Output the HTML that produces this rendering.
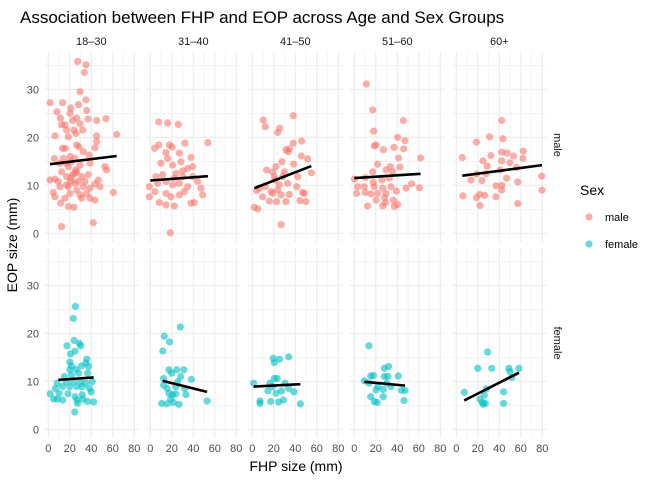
<!DOCTYPE html>
<html><head><meta charset="utf-8"><style>
body{margin:0;background:#fff;width:672px;height:480px;overflow:hidden;font-family:"Liberation Sans",sans-serif}
</style></head><body>
<svg id="chart" width="672" height="480" xmlns="http://www.w3.org/2000/svg" font-family="Liberation Sans, sans-serif">
<text x="20" y="23" font-size="17" fill="#000">Association between FHP and EOP across Age and Sex Groups</text>
<text transform="translate(17,245) rotate(-90)" text-anchor="middle" font-size="14" fill="#000">EOP size (mm)</text>
<text x="296" y="471" text-anchor="middle" font-size="14" fill="#000">FHP size (mm)</text>
<text transform="translate(554,145) rotate(90)" text-anchor="middle" font-size="11" fill="#1A1A1A">male</text>
<text transform="translate(554,343) rotate(90)" text-anchor="middle" font-size="11" fill="#1A1A1A">female</text>
<g>
<text x="580" y="195" font-size="14" fill="#000">Sex</text>
<circle cx="589" cy="217" r="3.6" fill="#F8766D" fill-opacity="0.6"/>
<text x="605" y="221" font-size="11" fill="#000">male</text>
<circle cx="589" cy="244" r="3.6" fill="#00BFC4" fill-opacity="0.6"/>
<text x="605" y="248" font-size="11" fill="#000">female</text>
</g>
<g id="panels"></g>
</svg>
<script>
const ageGroups = ["18–30","31–40","41–50","51–60","60+"];
const sexes = ["male","female"];
const xTicks = [0,20,40,60,80];
const yTicks = [0,10,20,30];
// male points [FHP, EOP] per age group
const male0 = [[27.3,35.8],[35,35.1],[33.5,33.5],[1.6,27.2],[13.3,27.2],[29.5,29.5],[35,27.8],[28,26.8],[35.7,25.6],[8,25.3],[20.8,26.1],[11.2,24],[37,23.8],[53.6,23.9],[45,23.5],[20.2,25],[22.6,23.5],[26.4,24],[15.5,22.6],[29.5,22.8],[6.2,20.3],[45,20.3],[63.6,20.6],[18.6,20.1],[25.7,20.8],[45,19.1],[15.8,17.7],[13.3,17.7],[26.4,18.4],[32.6,17],[43.4,17.8],[5.6,15.6],[14,15.6],[24.8,15.6],[38.1,16.3],[20.2,16],[52.7,13.9],[54.3,13.2],[1.6,11.1],[6.2,11.3],[12.4,12.8],[18.6,13.9],[22.6,12.2],[26.4,12.8],[31,11.8],[37.2,12.2],[46.5,11.1],[4.6,8.5],[10.9,9.7],[17,10.1],[20.8,10.8],[26.4,9],[32.6,9.7],[38.8,9.4],[43.4,10.3],[48,9.7],[60.5,8.5],[6.2,7.6],[11.5,6.3],[18.6,5.6],[23.9,5.4],[31,7.3],[38.8,7.3],[43.4,6.9],[12.4,1.4],[41.9,2.2],[17,14.6],[21.1,14.9],[29.5,14.2],[24.8,12.5],[17,11.8],[9.3,10.8],[27.9,10.8],[34.1,10.8],[20.2,8.3],[29.5,8],[35.7,8.3],[15.5,7.3],[25.4,13.2],[28.5,18],[23.9,21.5],[32,21.5],[17,21.5],[12.4,22.6],[38.8,14.6],[10.9,14.6],[21.1,11.5],[24.8,10.4],[18.6,9.7]];
const male1 = [[7.8,23.2],[16.1,23],[26,22.7],[53.6,18.9],[4,17.7],[7.8,18.4],[17.7,18.4],[20.2,18],[32.2,18.8],[14.6,16.8],[27,16.7],[16.1,15.6],[37.8,15.8],[9.9,14.6],[28.5,14.9],[20.8,14.2],[34.7,13.5],[39.4,13.9],[5.3,11.8],[11.5,12.2],[23.9,12.5],[30.1,11.8],[39.4,11.8],[44,10.8],[-0.9,9.7],[6.8,10.4],[14.6,10.8],[20.8,10.1],[27,10.4],[34.7,9.7],[47.1,9.4],[-0.9,7.6],[4.3,8.7],[14.6,8.3],[19.2,7.6],[27,8],[31.6,8.7],[48.7,8],[8.4,6.4],[14.6,5.9],[22.3,5.7],[40.9,6.4],[37.8,6.3],[18.6,0.1],[30.1,13],[22.3,11.5]];
const male2 = [[10.2,23.6],[12.1,22.2],[25.4,21.9],[23.6,21],[38.1,24.5],[38.1,18.8],[45.9,19.2],[31.3,17.4],[34.4,17.6],[33.5,17],[45.6,16.1],[27.6,14.9],[38.4,14.4],[51.5,15.5],[22,13.9],[13.3,13.2],[18.9,12.8],[29.8,12.8],[42.2,11.8],[54.9,12.6],[6.5,9.4],[12.1,9.7],[21.4,11.1],[17.4,8.7],[25.1,10.1],[32.9,10.4],[41.3,9.7],[9.6,7.6],[18.9,8.3],[26.7,8],[34.4,8.1],[46.8,8.5],[48.4,8.3],[15.8,6.7],[22.6,6.6],[31.3,6.6],[44.3,6.8],[49.9,6.6],[1.9,5.4],[5,5.1],[26.7,1.8],[23.6,9],[20.5,11.8],[28.3,11.8],[4,8.9]];
const male3 = [[11.2,31.1],[17.1,25.7],[18,21.3],[45.6,23.5],[40.3,20],[47.1,19.3],[18.6,18.2],[20.2,18.4],[27,17.4],[36.9,17.9],[45.9,17.6],[61.7,15.7],[41.2,15.7],[21.7,14.4],[33.5,13.9],[42.5,13.8],[17.1,12.8],[29.5,13.2],[35.7,12.8],[0,11.3],[10.2,11.6],[17.7,10.6],[25.7,11.1],[32.6,11.5],[3.1,9.7],[9.3,9.7],[18.6,9.7],[26.4,9.4],[34.1,9.7],[48.1,9.4],[53.3,10.3],[60.5,9.5],[2.2,8.3],[10.2,8.5],[15.5,8.2],[21.7,8.3],[29.5,8.3],[39.1,8.8],[20.2,6.9],[28.2,7.4],[36.3,6.9],[12.4,5.7],[26.4,5.7],[37.2,5.6],[40.3,6],[29.1,6.4]];
const male4 = [[5.6,15.8],[18.6,19],[31,20.1],[42.2,23.5],[43.4,19.7],[24.8,15.1],[32.2,16.2],[28.8,14],[42.2,16.9],[47.1,16.7],[53.3,16.1],[62.3,17.1],[62,15.6],[49.9,14.7],[42.2,15.1],[40.9,13.2],[56.1,13.7],[18.9,12.3],[13.6,11.1],[23.9,11],[27.6,12.4],[46.8,11.5],[79.4,11.9],[36.9,9.9],[42.5,10],[57.1,10.7],[79.7,9],[42.2,9],[6.2,7.8],[21.7,8.1],[26.4,7.9],[18.6,7.4],[36.9,7.6],[22,5.8],[57.1,6.2]];
// female points
const female0 = [[25.2,25.6],[23.3,23.1],[24,18.5],[17.3,17.4],[28.9,17.9],[30.2,17.4],[24.9,16.3],[20.6,15.7],[20,14],[35.9,14.6],[34.9,13.8],[21.6,13.2],[30.9,13.2],[25.9,12.5],[37.5,13.1],[15,11],[21.6,11.3],[28.2,11.7],[36.5,11.7],[40.9,9.9],[8.3,9.6],[13.3,8.9],[20,8.9],[26.6,8.9],[31.6,8.9],[38.2,8.5],[23.3,9.9],[16.6,9.9],[29.9,9.9],[39.9,7.8],[1.7,7.4],[10,7.5],[18.3,7.4],[24.9,6.8],[31.6,7.2],[8.3,6.3],[13.3,6.1],[26.6,6.1],[32.2,6.3],[5,6.3],[36.5,5.8],[42.2,5.7],[27.2,5.4],[24.6,3.6],[6.6,8.5],[34.9,9.6],[20,12.4]];
const female1 = [[13,19.4],[11.6,16.3],[17.9,18.2],[27.9,21.3],[17.3,12.4],[24.6,12.4],[31.2,12.4],[19.9,11.7],[28.2,11],[38.2,10.4],[12.3,9.2],[15.6,8.5],[23.6,8.9],[31.9,8.5],[17.3,7.5],[23.6,7.4],[20.6,7.2],[33.2,7.2],[10.6,5.4],[15.6,5.3],[21.3,5.6],[26.6,5.2],[52.8,5.9],[18.9,6.3],[25.6,9.9],[12.3,10.6]];
const female2 = [[1.2,9.6],[7.2,5.9],[7.2,5.4],[19.5,14.8],[20.5,13.9],[25.4,14.6],[33.8,15.1],[16.5,9.6],[20.5,10.6],[23.1,10.6],[14.5,8],[22.1,7.5],[27.1,8],[30.4,9.6],[33.8,8.5],[38.7,7.8],[17.1,5.8],[24.5,5.7],[28.9,6.1],[44.7,5.3],[18.8,8.9]];
const female3 = [[13.6,17.4],[9.3,10.1],[15.3,11.1],[17.9,11.2],[13.6,9.6],[27.9,12.7],[31.9,13.1],[27.9,11],[31.2,11],[40.9,11.1],[21.9,8.9],[26.9,8.3],[34.2,8.9],[15.3,6.8],[18.6,5.8],[21.3,5.6],[26.9,6.8],[43.9,8.1],[47.2,8.1],[46.2,6],[30.2,9.6],[20.3,8.2]];
const female4 = [[7.4,7.7],[29,16.1],[20,12.7],[33,12.7],[48.9,12.7],[49.9,12],[51.6,10.8],[58.3,12.7],[28,8.4],[22,6.3],[24,5.6],[26,7.1],[25,5.2],[27,5.4],[44,7.8],[44,5.4]];
const malePts = [male0,male1,male2,male3,male4];
const femalePts = [female0,female1,female2,female3,female4];
// regression fit endpoints [x1,y1,x2,y2]
const maleFits = [[1.6,14.4,63.6,16.1],[0,11,53.6,11.9],[1.9,9.4,54.9,14],[0,11.5,61.7,12.4],[5.6,12,79.7,14.2]];
const femaleFits = [[9.3,10.3,42.2,10.8],[11.6,10.1,52.8,7.8],[1.2,8.9,44.7,9.4],[9.3,9.9,47.2,9.1],[7.4,6,58.3,11.8]];

const NS="http://www.w3.org/2000/svg";
const g=document.getElementById('panels');
function mk(t,a,p){const e=document.createElementNS(NS,t);for(const k in a)e.setAttribute(k,a[k]);(p||g).appendChild(e);return e;}
const xScale=(i,v)=>48.3+102*i+v*1.075;
const rowZero=[233.3,429.3];
const yScale=(r,v)=>rowZero[r]-v*4.8;
for(let r=0;r<2;r++){
 for(let i=0;i<5;i++){
  const pg=mk('g',{});
  
  
  const L=xScale(i,-4),R=xScale(i,84),T=yScale(r,37.8),B=yScale(r,-1.8);
  for(let v=5;v<=35;v+=10){const y=yScale(r,v);const l=mk('line',{x1:L,x2:R,y1:y,y2:y,stroke:'#EBEBEB','stroke-width':0.55},pg);}
  for(let v=10;v<=70;v+=20){const x=xScale(i,v);const l=mk('line',{x1:x,x2:x,y1:T,y2:B,stroke:'#EBEBEB','stroke-width':0.55},pg);}
  yTicks.forEach(v=>{const y=yScale(r,v);const l=mk('line',{x1:L,x2:R,y1:y,y2:y,stroke:'#EBEBEB','stroke-width':1.1},pg);});
  xTicks.forEach(v=>{const x=xScale(i,v);const l=mk('line',{x1:x,x2:x,y1:T,y2:B,stroke:'#EBEBEB','stroke-width':1.1},pg);});
  const pts=r===0?malePts[i]:femalePts[i];
  const col=r===0?'#F8766D':'#00BFC4';
  pts.forEach(p=>{const c=mk('circle',{cx:xScale(i,p[0]),cy:yScale(r,p[1]),r:3.6,fill:col,'fill-opacity':0.6},pg);
   
   });
  const f=r===0?maleFits[i]:femaleFits[i];
  const ln=mk('line',{x1:xScale(i,f[0]),y1:yScale(r,f[1]),x2:xScale(i,f[2]),y2:yScale(r,f[3]),stroke:'#000','stroke-width':2.6},pg);
  
  
  if(r===0){const s=mk('text',{x:(L+R)/2,y:45,'text-anchor':'middle','font-size':11,fill:'#1A1A1A'});s.textContent=ageGroups[i];
   
   }
  if(r===1){xTicks.forEach(v=>{const t=mk('text',{x:xScale(i,v),y:452,'text-anchor':'middle','font-size':11,fill:'#4D4D4D'});t.textContent=v;
   
   });}
  if(i===0){yTicks.forEach(v=>{const t=mk('text',{x:39,y:yScale(r,v)+4,'text-anchor':'end','font-size':11,fill:'#4D4D4D'});t.textContent=v;
   
   });}
 }
}
</script>
</body></html>
